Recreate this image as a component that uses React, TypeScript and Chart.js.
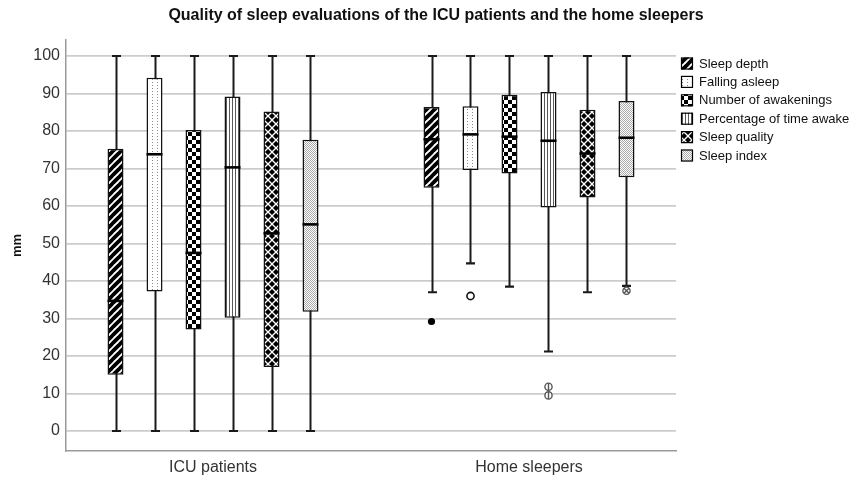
import { useEffect, useRef } from 'react';
import { Chart, registerables } from 'chart.js';

Chart.register(...registerables);

const chartTitle = 'Quality of sleep evaluations of the ICU patients and the home sleepers';
const yTitle = 'mm';
const categories = ['ICU patients', 'Home sleepers'];
const seriesNames = [
  'Sleep depth',
  'Falling asleep',
  'Number of awakenings',
  'Percentage of time awake',
  'Sleep quality',
  'Sleep index',
];
// per series: [ICU patients, Home sleepers]
const whiskerLow = [[0, 37], [0, 44.7], [0, 38.5], [0, 21.2], [0, 37], [0, 38.7]];
const q1 = [[15, 64.9], [37.2, 69.6], [27.1, 68.7], [30.2, 59.6], [17.1, 62.3], [31.8, 67.7]];
const median = [[34.7, 77.8], [73.8, 79.1], [47.5, 78.5], [70.3, 77.4], [52.7, 74], [55.1, 78.2]];
const q3 = [[75.3, 86.4], [94.2, 86.6], [80.3, 89.7], [89.2, 90.4], [85.2, 85.7], [77.7, 88]];
const whiskerHigh = [[100, 100], [100, 100], [100, 100], [100, 100], [100, 100], [100, 100]];
const outliers = [[[], [29.2]], [[], [36]], [[], []], [[], [11.8, 9.5]], [[], []], [[], [37.4]]];
const outlierMarkers = ['filled', 'open', 'open', 'theta', 'open', 'cross'];
const patternKinds = ['diag', 'dots', 'checker', 'vlines', 'lattice', 'fine'];
const yTicks = [0, 10, 20, 30, 40, 50, 60, 70, 80, 90, 100];

const FONT = '"Liberation Sans", Arial, sans-serif';

function makePattern(kind: string): CanvasPattern | string {
  const c = document.createElement('canvas');
  let w = 8, h = 8;
  if (kind === 'diag') { w = 8; h = 8; }
  if (kind === 'dots') { w = 5; h = 3; }
  if (kind === 'checker') { w = 8; h = 8; }
  if (kind === 'vlines') { w = 3; h = 1; }
  if (kind === 'lattice') { w = 8; h = 8; }
  if (kind === 'fine') { w = 2; h = 2; }
  c.width = w; c.height = h;
  const g = c.getContext('2d')!;
  g.fillStyle = '#fff';
  g.fillRect(0, 0, w, h);
  if (kind === 'diag') {
    g.strokeStyle = '#000';
    g.lineWidth = 3.8;
    for (const o of [-w, 0, w]) {
      g.beginPath();
      g.moveTo(o - 1, h + 1);
      g.lineTo(o + w + 1, -1);
      g.stroke();
    }
  } else if (kind === 'dots') {
    g.fillStyle = '#8a8a8a';
    g.fillRect(2, 1, 1, 1);
  } else if (kind === 'checker') {
    g.fillStyle = '#000';
    g.fillRect(0, 0, 4, 4);
    g.fillRect(4, 4, 4, 4);
  } else if (kind === 'vlines') {
    g.fillStyle = '#5a5a5a';
    g.fillRect(1, 0, 1, 1);
  } else if (kind === 'lattice') {
    g.fillStyle = '#000';
    g.fillRect(0, 0, w, h);
    g.strokeStyle = '#fff';
    g.lineWidth = 1.3;
    for (const o of [-w, 0, w]) {
      g.beginPath(); g.moveTo(o - 1, h + 1); g.lineTo(o + w + 1, -1); g.stroke();
      g.beginPath(); g.moveTo(o - 1, -1); g.lineTo(o + w + 1, h + 1); g.stroke();
    }
  } else if (kind === 'fine') {
    g.fillStyle = '#a8a8a8';
    g.fillRect(0, 0, 1, 1);
    g.fillRect(1, 1, 1, 1);
  }
  const p = g.createPattern(c, 'repeat');
  return p || '#888';
}

function drawMarker(ctx: CanvasRenderingContext2D, kind: string, x: number, y: number) {
  ctx.save();
  const r = 3.6;
  ctx.beginPath();
  ctx.arc(x, y, r, 0, Math.PI * 2);
  if (kind === 'filled') {
    ctx.fillStyle = '#000';
    ctx.fill();
  } else if (kind === 'open') {
    ctx.fillStyle = '#fff';
    ctx.fill();
    ctx.strokeStyle = '#111';
    ctx.lineWidth = 1.6;
    ctx.stroke();
  } else {
    ctx.fillStyle = '#fff';
    ctx.fill();
    ctx.strokeStyle = '#555';
    ctx.lineWidth = 1.4;
    ctx.stroke();
    ctx.beginPath();
    if (kind === 'theta') {
      ctx.moveTo(x, y - r);
      ctx.lineTo(x, y + r);
    } else {
      const d = r * 0.7;
      ctx.moveTo(x - d, y - d); ctx.lineTo(x + d, y + d);
      ctx.moveTo(x - d, y + d); ctx.lineTo(x + d, y - d);
    }
    ctx.stroke();
  }
  ctx.restore();
}

export default function App() {
  const ref = useRef<HTMLCanvasElement | null>(null);

  useEffect(() => {
    document.body.style.margin = '0';
    const canvas = ref.current!;
    const patterns = patternKinds.map(makePattern);

    const boxPlugin = {
      id: 'boxPlugin',
      beforeDatasetsDraw(chart: any) {
        const ctx = chart.ctx as CanvasRenderingContext2D;
        const ys = chart.scales.y;
        ctx.save();
        ctx.strokeStyle = '#1a1a1a';
        seriesNames.forEach((_, d) => {
          const meta = chart.getDatasetMeta(d);
          meta.data.forEach((bar: any, i: number) => {
            const x = Math.round(bar.x) + 0.5;
            const lo = ys.getPixelForValue(whiskerLow[d][i]);
            const hi = ys.getPixelForValue(whiskerHigh[d][i]);
            ctx.lineWidth = 2;
            ctx.beginPath();
            ctx.moveTo(x, lo);
            ctx.lineTo(x, hi);
            ctx.stroke();
            ctx.lineWidth = 2.2;
            ctx.beginPath();
            ctx.moveTo(x - 4.5, lo); ctx.lineTo(x + 4.5, lo);
            ctx.moveTo(x - 4.5, hi); ctx.lineTo(x + 4.5, hi);
            ctx.stroke();
          });
        });
        ctx.restore();
      },
      afterDatasetsDraw(chart: any) {
        const ctx = chart.ctx as CanvasRenderingContext2D;
        const ys = chart.scales.y;
        ctx.save();
        seriesNames.forEach((_, d) => {
          const meta = chart.getDatasetMeta(d);
          meta.data.forEach((bar: any, i: number) => {
            const half = bar.width / 2;
            const m = ys.getPixelForValue(median[d][i]);
            ctx.strokeStyle = '#000';
            ctx.lineWidth = 2.6;
            ctx.beginPath();
            ctx.moveTo(bar.x - half, m);
            ctx.lineTo(bar.x + half, m);
            ctx.stroke();
            outliers[d][i].forEach((v) => {
              drawMarker(ctx, outlierMarkers[d], bar.x, ys.getPixelForValue(v));
            });
          });
        });
        ctx.restore();
      },
      afterDraw(chart: any) {
        const ctx = chart.ctx as CanvasRenderingContext2D;
        ctx.save();
        // title
        ctx.fillStyle = '#111';
        ctx.font = `bold 16px ${FONT}`;
        ctx.textAlign = 'center';
        ctx.textBaseline = 'middle';
        ctx.fillText(chartTitle, 436, 16);
        // legend
        const lx = chart.chartArea.right + 5;
        ctx.font = `13px ${FONT}`;
        ctx.textAlign = 'left';
        seriesNames.forEach((name, d) => {
          const top = 57.5 + d * 18.4;
          ctx.fillStyle = patterns[d] as any;
          ctx.fillRect(lx, top, 12, 12);
          ctx.strokeStyle = '#000';
          ctx.lineWidth = 1.2;
          ctx.strokeRect(lx + 0.5, top + 0.5, 11, 11);
          ctx.fillStyle = '#111';
          ctx.fillText(name, lx + 18, top + 6.5);
        });
        ctx.restore();
      },
    };

    const chart = new Chart(canvas, {
      type: 'bar',
      data: {
        datasets: seriesNames.map((name, d) => ({
          label: name,
          data: categories.map((_, i) => ({ x: i, y: [q1[d][i], q3[d][i]] })) as any,
          backgroundColor: patterns[d] as any,
          borderColor: '#111',
          borderWidth: 1.5,
          borderSkipped: false,
          categoryPercentage: 0.7405,
          barPercentage: 0.41,
        })),
      },
      options: {
        responsive: false,
        animation: false,
        devicePixelRatio: 1,
        layout: { padding: { left: 0, right: 178, top: 40, bottom: 0 } },
        plugins: {
          legend: { display: false },
          title: { display: false },
          tooltip: { enabled: false },
        },
        scales: {
          x: {
            type: 'linear',
            min: -0.4652,
            max: 1.4652,
            offset: false,
            grid: { display: false, drawTicks: false, offset: false },
            border: { display: true, color: '#9a9a9a', width: 1.5 },
            afterBuildTicks: (s: any) => {
              s.ticks = categories.map((_, i) => ({ value: i }));
            },
            afterFit: (s: any) => {
              s.height = 26;
            },
            ticks: {
              autoSkip: false,
              maxRotation: 0,
              padding: 7,
              color: '#333',
              font: { size: 16, family: FONT },
              callback: (v: any) => categories[v] ?? '',
            },
          },
          y: {
            type: 'linear',
            min: -5.33,
            max: 104.27,
            grid: { color: '#cccccc', lineWidth: 1.8, drawTicks: false },
            border: { display: true, color: '#9a9a9a', width: 1.5 },
            afterBuildTicks: (s: any) => {
              s.ticks = yTicks.map((v) => ({ value: v }));
            },
            afterFit: (s: any) => {
              s.width = 66;
            },
            ticks: {
              padding: 6,
              color: '#333',
              font: { size: 16, family: FONT },
            },
            title: {
              display: true,
              text: yTitle,
              color: '#111',
              padding: { top: 10, bottom: 0 },
              font: { size: 13, weight: 'bold', family: FONT },
            },
          },
        },
      },
      plugins: [boxPlugin],
    });

    return () => chart.destroy();
  }, []);

  return (
    <div style={{ position: 'absolute', left: 0, top: 0, width: 854, height: 477 }}>
      <canvas ref={ref} width={854} height={477} style={{ display: 'block' }} />
    </div>
  );
}
